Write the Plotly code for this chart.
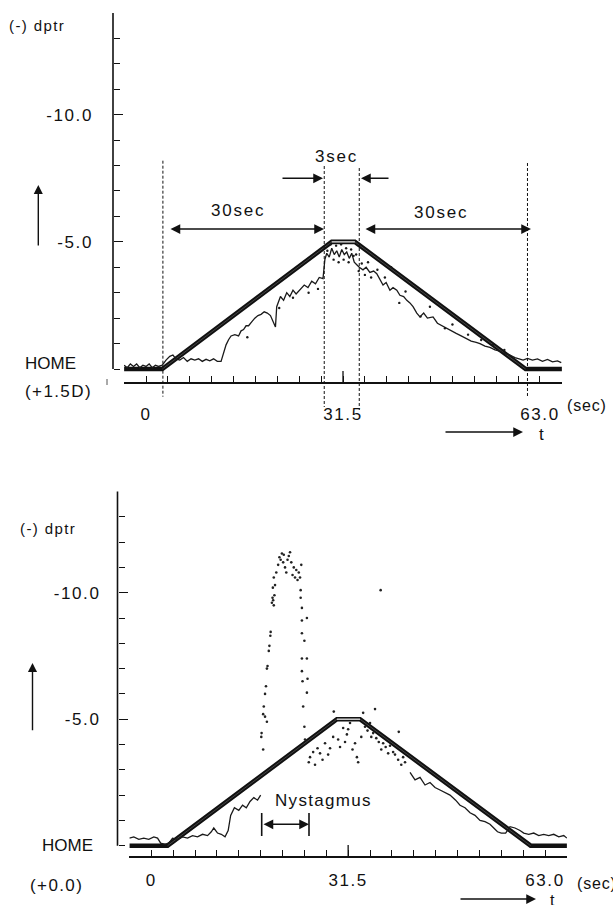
import plotly.graph_objects as go

W, H = 613, 905
FONT = "Liberation Sans, Arial, Helvetica, sans-serif"
INK = "#111111"

# ---------------- data (seconds, dioptres above HOME; up = more minus dptr) -------------
stim_t = [-3.5, 2.6, 29.7, 33.4, 60.7, 66.5]
stim_v = [0.0, 0.0, 5.0, 5.0, 0.0, 0.0]

x_tickvals = [0, 31.5, 63.0]
x_ticktext = ["0", "31.5", "63.0"]
y_tickvals = [5, 10]
y_ticktext = ["-5.0", "-10.0"]

marker_t = [2.7, 28.5, 34.1, 61.0]   # dashed event lines, upper panel

# upper panel response trace
top_t = [-3.5, -3.0, -2.5, -2.0, -1.5, -1.0, -0.5, 0.0, 0.5, 1.0, 1.5, 2.0, 2.6, 3.2, 3.8,
         4.3, 4.8, 5.4, 6.0, 6.6, 7.2, 7.8, 8.4, 9.0, 9.6, 10.2, 10.8, 11.4, 12.0, 12.4,
         12.8, 13.2, 13.6, 14.2, 14.8, 15.2, 15.6, 16.0, 16.4, 16.9, 17.4, 17.9, 18.4,
         18.9, 19.4, 19.9, 20.3, 20.7, 20.9, 21.2, 21.5, 22.0, 22.5, 23.0, 23.5, 24.0, 24.7,
         25.3, 25.9, 26.5, 27.1, 27.7, 28.3, 28.6, 28.9, 29.3, 29.7, 30.1, 30.5, 30.9, 31.3,
         31.7, 32.1, 32.5, 32.9, 33.3, 33.7, 34.1, 34.7, 35.2, 35.8, 36.4, 36.9, 37.4, 37.9,
         38.4, 39.0, 39.5, 40.1, 40.6, 41.2, 41.7, 42.2, 42.7, 43.3, 43.8, 44.4, 45.0, 45.9,
         46.6, 47.3, 48.0, 48.8, 49.6, 50.4, 51.2, 52.0, 52.8, 53.4, 54.2, 55.0, 55.8, 56.6,
         57.4, 58.2, 59.0, 59.8, 60.3, 61.0, 61.8, 62.6, 63.4, 64.2, 65.0, 65.8, 66.4]
top_v = [0.15, 0.05, 0.2, 0.1, 0.2, 0.05, 0.15, 0.1, 0.2, 0.05, 0.15, 0.1, 0.15, 0.35, 0.5,
         0.55, 0.4, 0.35, 0.45, 0.3, 0.4, 0.35, 0.4, 0.3, 0.38, 0.32, 0.4, 0.3, 0.3, 0.6,
         0.95, 1.15, 1.3, 1.35, 1.3, 1.5, 1.55, 1.7, 1.7, 1.85, 2.0, 2.1, 2.15,
         2.25, 2.2, 2.1, 1.85, 1.65, 2.45, 2.7, 2.85, 2.7, 3.0, 2.85, 3.1, 2.95, 3.15,
         3.3, 3.2, 3.45, 3.35, 3.6, 3.55, 4.3, 4.55, 4.4, 4.75, 4.5, 4.65, 4.4, 4.7,
         4.5, 4.6, 4.35, 4.55, 4.2, 4.1, 4.0, 3.9, 4.0, 3.8, 3.85, 3.75, 3.5, 3.3,
         3.4, 3.1, 3.2, 3.1, 2.9, 2.85, 2.7, 2.6, 2.45, 2.2, 2.05, 2.2, 2.0, 2.05,
         1.8, 1.7, 1.6, 1.5, 1.4, 1.3, 1.2, 1.1, 1.05, 1.0, 0.9, 0.85, 0.75, 0.7,
         0.6, 0.55, 0.45, 0.4, 0.35, 0.42, 0.35, 0.4, 0.3, 0.38, 0.28, 0.32, 0.25]
top_dot_t = [29.0, 29.5, 30.0, 30.4, 30.8, 31.2, 31.6, 32.0, 32.4, 32.8, 33.2, 33.6, 34.0,
             34.5, 35.0, 35.5, 36.0, 37.0, 38.2, 39.2, 40.5, 41.5, 43.9, 45.4, 47.8, 49.0,
             51.5, 53.6, 55.5, 57.3, 21.3, 23.5, 26.0, 27.5, 16.2]
top_dot_v = [4.65, 4.9, 4.3, 4.85, 4.2, 4.9, 4.3, 4.75, 4.2, 4.7, 4.45, 4.5, 3.85,
             4.15, 3.7, 4.2, 3.6, 3.9, 3.6, 4.0, 2.6, 3.05, 2.06, 2.45, 1.6, 1.75,
             1.35, 1.14, 0.95, 0.75, 2.4, 2.8, 3.0, 3.15, 1.25]

# lower panel response trace: before the nystagmus, and after the cloud
bot_a_t = [-3.5, -2.8, -2.0, -1.2, -0.4, 0.4, 1.0, 1.5, 2.2, 2.8, 3.4, 4.2, 5.0, 5.8, 6.6,
           7.4, 8.2, 9.0, 9.6, 10.0, 10.6, 11.2, 11.8, 12.3, 12.7, 13.3, 14.0, 14.6, 15.2,
           15.8, 16.4, 17.0, 17.5]
bot_a_v = [0.3, 0.35, 0.25, 0.3, 0.25, 0.35, 0.3, 0.1, 0.05, 0.1, 0.3, 0.25, 0.35, 0.3, 0.4,
           0.35, 0.45, 0.4, 0.55, 0.7, 0.5, 0.45, 0.35, 0.6, 1.2, 1.5, 1.4, 1.6, 1.5,
           1.75, 1.9, 1.8, 2.0]
bot_b_t = [41.4, 42.2, 43.0, 43.8, 44.6, 45.4, 46.2, 47.0, 47.8, 48.7, 49.4, 50.2, 51.0,
           51.8, 52.6, 53.4, 54.2, 54.8, 55.4, 56.0, 56.7, 57.4, 58.2, 59.0, 59.6, 60.4,
           61.2, 62.0, 62.8, 63.6, 64.4, 65.2, 66.0, 66.5]
bot_b_v = [2.9, 2.6, 2.7, 2.4, 2.5, 2.3, 2.2, 2.1, 2.0, 1.8, 1.6, 1.5, 1.3,
           1.2, 1.0, 0.95, 0.85, 0.7, 0.55, 0.5, 0.5, 0.75, 0.7, 0.6, 0.5, 0.45,
           0.5, 0.4, 0.45, 0.4, 0.45, 0.35, 0.4, 0.3]
spike_t = [17.6, 17.65, 17.9, 17.9, 18.0, 18.2, 18.2, 18.35, 18.5, 18.5, 18.6, 18.8, 18.9,
           19.05, 19.1, 19.3, 19.4, 19.5, 19.6, 19.7, 19.45, 19.8, 19.6, 20.0, 20.3, 20.5,
           20.7, 20.9, 21.1, 21.2, 21.4, 21.6, 21.8, 22.0, 22.2, 22.4, 22.6, 22.8, 23.0,
           23.2, 23.4, 23.6, 23.8, 23.9, 24.0, 23.9, 24.1, 24.1, 24.1, 24.5, 24.9, 24.9,
           24.1, 24.1, 25.0, 24.2, 24.3, 24.5, 24.6, 25.2]
spike_v = [4.3, 4.45, 3.8, 5.2, 5.5, 6.0, 5.1, 6.3, 7.0, 4.9, 7.1, 7.7, 7.9,
           8.3, 8.45, 9.6, 9.8, 9.7, 9.5, 9.9, 10.2, 10.3, 10.6, 10.8, 11.1, 11.4,
           11.3, 11.55, 11.2, 11.5, 11.0, 10.8, 11.3, 11.45, 11.6, 11.2, 10.7, 11.0, 10.6,
           10.9, 10.5, 10.8, 10.6, 10.1, 11.1, 9.8, 9.4, 8.9, 8.4, 8.1, 9.0, 7.4,
           7.4, 6.9, 6.6, 6.5, 5.5, 4.7, 4.2, 3.3]
cloud_t = [24.9, 25.4, 25.9, 26.6, 27.0, 27.8, 28.3, 28.6, 29.1, 29.2, 29.9, 30.7, 31.0,
           31.5, 31.8, 32.6, 32.9, 33.1, 33.6, 33.9, 34.2, 35.0, 35.5, 35.8, 36.0, 36.7,
           36.8, 37.1, 37.9, 38.7, 39.5, 39.6, 40.0, 40.6, 26.2, 27.4, 30.2, 31.3, 32.2,
           34.6, 35.2, 36.4, 37.5, 38.2, 39.0, 40.3]
cloud_v = [6.05, 3.5, 3.7, 3.85, 3.65, 4.05, 3.6, 3.85, 4.3, 5.3, 4.2, 4.65, 4.1,
           4.6, 4.85, 4.05, 3.5, 3.3, 4.3, 5.25, 4.7, 4.85, 4.45, 5.4, 4.25, 10.1,
           3.8, 4.05, 3.65, 3.7, 3.4, 4.5, 3.2, 3.3, 3.2, 3.4, 3.9, 4.4, 3.8,
           4.55, 4.3, 4.1, 3.9, 3.95, 3.6, 3.5]

# ---------------- geometry helpers -------------------------------------------------------
def px(x):
    return x / W


def py(y):
    return 1 - y / H


def spaced(s, sp=1.6):
    return '<span style="letter-spacing:%.1fpx">%s</span>' % (sp, s)


panels = [
    # x axis left/right px, x-axis line y px, HOME y px, px per dioptre, y-axis x px
    dict(xl=124.0, xr=562.0, axis=382.0, home=369.0, unit=25.43, yx=113.0),
    dict(xl=129.3, xr=567.0, axis=856.0, home=845.7, unit=25.30, yx=117.5),
]
XR = [-3.52, 66.52]
YTOP = 14.02

fig = go.Figure()
layout = dict(width=W, height=H, margin=dict(l=0, r=0, t=0, b=0),
              paper_bgcolor="white", plot_bgcolor="white", showlegend=False,
              font=dict(family=FONT, size=16, color=INK))
shapes = []
ann = []

label_standoff = [16, 8]
for i, p in enumerate(panels):
    n = "" if i == 0 else str(i + 1)
    ybot = -(p["axis"] - p["home"]) / p["unit"]
    ytop_px = p["home"] - YTOP * p["unit"]
    layout["xaxis" + n] = dict(
        domain=[px(p["xl"]), px(p["xr"])], range=XR, anchor="y" + n,
        showgrid=False, zeroline=False, showline=True, linecolor=INK, linewidth=1.6,
        ticks="inside", ticklen=6, tickwidth=1.2, tickcolor=INK,
        tickvals=x_tickvals, ticktext=[spaced(s) for s in x_ticktext],
        ticklabelstandoff=label_standoff[i],
        tickfont=dict(family=FONT, size=17, color=INK),
        minor=dict(tick0=-3.5, dtick=3.5, ticks="inside", ticklen=6, tickwidth=1.2,
                   tickcolor=INK, showgrid=False),
        fixedrange=True)
    layout["yaxis" + n] = dict(
        domain=[py(p["axis"]), py(ytop_px)], range=[ybot, YTOP], anchor="free",
        position=px(p["yx"]),
        showgrid=False, zeroline=False, showline=False,
        ticks="inside", ticklen=9, tickwidth=1.3, tickcolor=INK,
        tickvals=y_tickvals, ticktext=[spaced(s) for s in y_ticktext],
        ticklabelstandoff=20 if i == 0 else 17,
        tickfont=dict(family=FONT, size=17, color=INK),
        minor=dict(tick0=0, dtick=1, ticks="inside", ticklen=6, tickwidth=1.2,
                   tickcolor=INK, showgrid=False),
        fixedrange=True)
    xa, ya = "x" + n, "y" + n
    # y-axis line from HOME up to the top tick
    shapes.append(dict(type="line", xref="paper", yref=ya, x0=px(p["yx"]), x1=px(p["yx"]),
                       y0=0, y1=14, line=dict(color=INK, width=1.6)))
    # taller tick at the middle label
    shapes.append(dict(type="line", xref=xa, yref="paper", x0=x_tickvals[1], x1=x_tickvals[1],
                       y0=py(p["axis"]), y1=py(p["axis"] - 11), line=dict(color=INK, width=1.3)))

    # stimulus trapezoid: thick black, hollow along the plateau
    fig.add_trace(go.Scatter(x=stim_t, y=stim_v, xaxis=xa, yaxis=ya, mode="lines",
                             line=dict(color=INK, width=4.6), hoverinfo="skip"))
    fig.add_trace(go.Scatter(x=stim_t[1:5], y=stim_v[1:5], xaxis=xa, yaxis=ya, mode="lines",
                             line=dict(color="rgba(255,255,255,0.22)", width=1.0),
                             hoverinfo="skip"))
    fig.add_trace(go.Scatter(x=stim_t[2:4], y=stim_v[2:4], xaxis=xa, yaxis=ya, mode="lines",
                             line=dict(color="rgba(255,255,255,0.85)", width=1.3),
                             hoverinfo="skip"))

# upper panel response
fig.add_trace(go.Scatter(x=top_t, y=top_v, xaxis="x", yaxis="y", mode="lines",
                         line=dict(color="#1a1a1a", width=1.3), hoverinfo="skip"))
fig.add_trace(go.Scatter(x=top_dot_t, y=top_dot_v, xaxis="x", yaxis="y", mode="markers",
                         marker=dict(color="#1a1a1a", size=2.4), hoverinfo="skip"))
# lower panel response
for tt, vv in [(bot_a_t, bot_a_v), (bot_b_t, bot_b_v)]:
    fig.add_trace(go.Scatter(x=tt, y=vv, xaxis="x2", yaxis="y2", mode="lines",
                             line=dict(color="#1a1a1a", width=1.3), hoverinfo="skip"))
fig.add_trace(go.Scatter(x=spike_t, y=spike_v, xaxis="x2", yaxis="y2", mode="markers",
                         marker=dict(color="#222222", size=2.6), hoverinfo="skip"))
fig.add_trace(go.Scatter(x=cloud_t, y=cloud_v, xaxis="x2", yaxis="y2", mode="markers",
                         marker=dict(color="#222222", size=2.6), hoverinfo="skip"))

# dashed event lines (upper panel)
dash_span = [(160.7, 396.7), (166.0, 407.0), (168.0, 410.0), (163.0, 397.0)]
for t, (y0, y1) in zip(marker_t, dash_span):
    shapes.append(dict(type="line", xref="x", yref="paper", x0=t, x1=t, y0=py(y0), y1=py(y1),
                       line=dict(color=INK, width=1, dash="3px,2px")))

# stray mark left of upper x-axis
shapes.append(dict(type="line", xref="paper", yref="paper", x0=px(107), x1=px(107),
                   y0=py(379), y1=py(385), line=dict(color="#555555", width=1)))

# Nystagmus bracket bars
for bx in (261.7, 309.0):
    shapes.append(dict(type="line", xref="paper", yref="paper", x0=px(bx), x1=px(bx),
                       y0=py(813), y1=py(836), line=dict(color=INK, width=1.6)))


def text(s, cx, cy, size=17, xanchor="center", sp=1.6, yanchor="middle"):
    ann.append(dict(x=px(cx), y=py(cy), xref="paper", yref="paper",
                    text=spaced(s, sp) if sp else s, showarrow=False,
                    xanchor=xanchor, yanchor=yanchor,
                    font=dict(family=FONT, size=size, color=INK)))


def arrow(xh, yh, xt, yt, both=False, size=1.0, width=1.5):
    d = dict(x=px(xh), y=py(yh), xref="paper", yref="paper", ax=xt - xh, ay=yt - yh,
             axref="pixel", ayref="pixel", text="", showarrow=True, arrowhead=2,
             arrowsize=size, arrowwidth=width, arrowcolor=INK, standoff=0,
             arrowside="end+start" if both else "end")
    if both:
        d.update(startarrowhead=2, startarrowsize=size, startstandoff=0)
    ann.append(d)


# upper panel texts
text("(-) dptr", 36.5, 26, 15, sp=1.4)
text("HOME", 50.5, 364, 17, sp=0)
text("(+1.5D)", 58, 391, 17, sp=1.4)
text("30sec", 237.5, 211, 17, sp=1.8)
text("30sec", 441, 212, 17, sp=1.8)
text("3sec", 336.5, 156, 17, sp=1.8)
text("(sec)", 586.5, 405, 16, sp=0.8)
text("t", 541, 434, 17, sp=0)
arrow(38.3, 185, 38.3, 247, size=1.3, width=1.4)
arrow(324, 229, 169, 229, both=True, size=1.3, width=1.5)
arrow(531, 229, 364, 229, both=True, size=1.3, width=1.5)
arrow(323, 178.3, 281, 178.3, size=1.3, width=1.5)
arrow(361, 178.3, 390, 178.3, size=1.3, width=1.5)
arrow(523, 432, 444, 432, size=1.3, width=1.5)

# lower panel texts
text("(-) dptr", 47.5, 528, 15, sp=1.4)
text("HOME", 67.5, 845.7, 17, sp=0)
text("(+0.0)", 56, 885, 17, sp=1.4)
text("Nystagmus", 323.3, 800, 17, sp=1.3)
text("(sec)", 575, 883, 16, xanchor="left", sp=0.8)
text("t", 552, 890, 16, sp=0, yanchor="top")
arrow(32.5, 663, 32.5, 731.7, size=1.3, width=1.4)
arrow(309, 824.3, 262, 824.3, both=True, size=1.3, width=1.5)
arrow(536, 899, 459, 899, size=1.3, width=1.5)

layout["shapes"] = shapes
layout["annotations"] = ann
fig.update_layout(**layout)
fig.write_html("out.html", config={"displayModeBar": False},
               post_script="document.body.style.margin='0';document.body.style.padding='0';")
